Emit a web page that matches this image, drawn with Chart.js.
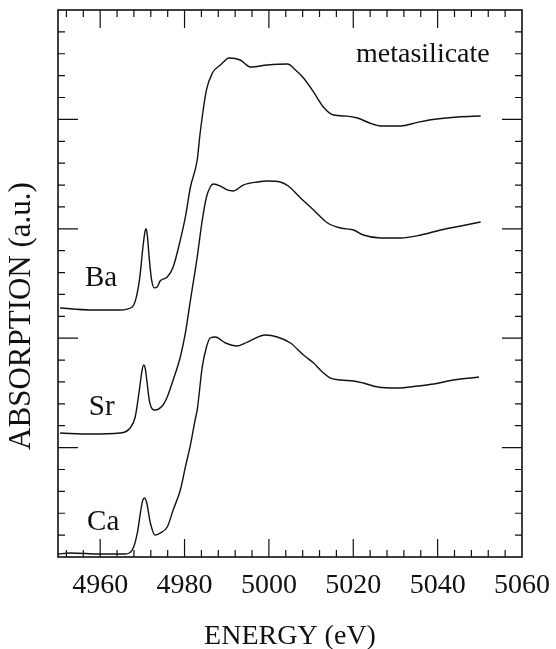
<!DOCTYPE html>
<html lang="en">
<head>
<meta charset="UTF-8">
<title>metasilicate XANES</title>
<script src="https://cdn.jsdelivr.net/npm/chart.js@4.4.1/dist/chart.umd.min.js"></script>
<style>
    html, body { margin: 0; padding: 0; background: #fff; }
    #wrap { width: 556px; height: 649px; position: relative; }
</style>
</head>
<body>
<div id="wrap"><canvas id="chart"></canvas></div>
<script>
// energies (eV) and absorption (a.u., offset curves)
const baEnergy = [4950.5, 4957.6, 4964.7, 4967.6, 4968.6, 4969.4, 4970.1, 4970.6, 4970.9, 4971.2, 4971.7, 4972.2, 4972.8, 4973.5, 4974.2, 4975.9, 4977.3, 4979.0, 4980.2, 4981.4, 4983.0, 4983.7, 4985.2, 4986.6, 4988.5, 4990.6, 4993.2, 4995.6, 4999.6, 5004.4, 5006.3, 5008.2, 5010.6, 5012.9, 5015.3, 5018.5, 5021.0, 5024.0, 5026.5, 5031.2, 5035.0, 5038.0, 5044.8, 5050.2];
const baAbs    = [2.276, 2.258, 2.258, 2.285, 2.380, 2.560, 2.820, 2.970, 3.000, 2.930, 2.700, 2.530, 2.460, 2.468, 2.523, 2.559, 2.651, 2.898, 3.108, 3.382, 3.629, 3.876, 4.269, 4.424, 4.497, 4.561, 4.543, 4.479, 4.497, 4.506, 4.452, 4.378, 4.250, 4.113, 4.040, 4.030, 4.013, 3.965, 3.940, 3.940, 3.970, 3.995, 4.022, 4.031];

const srEnergy = [4950.5, 4957.6, 4964.7, 4967.1, 4968.3, 4969.3, 4969.9, 4970.3, 4970.7, 4971.1, 4971.7, 4973.0, 4974.7, 4975.9, 4977.3, 4979.0, 4980.2, 4981.4, 4983.0, 4984.2, 4985.2, 4986.1, 4986.8, 4988.5, 4990.1, 4991.6, 4993.9, 4997.3, 4999.6, 5002.7, 5004.6, 5007.5, 5010.6, 5013.9, 5017.0, 5020.1, 5022.4, 5026.5, 5031.2, 5036.0, 5040.7, 5045.5, 5050.2];
const srAbs    = [1.133, 1.124, 1.133, 1.179, 1.280, 1.530, 1.700, 1.755, 1.720, 1.600, 1.420, 1.344, 1.380, 1.463, 1.618, 1.828, 2.048, 2.349, 2.742, 3.080, 3.291, 3.382, 3.409, 3.391, 3.355, 3.346, 3.400, 3.428, 3.437, 3.428, 3.391, 3.281, 3.172, 3.053, 3.007, 2.989, 2.943, 2.916, 2.916, 2.943, 2.989, 3.026, 3.062];

const caEnergy = [4950.0, 4952.9, 4960.0, 4965.9, 4967.6, 4968.8, 4969.6, 4970.1, 4970.5, 4971.0, 4971.9, 4973.0, 4974.2, 4975.9, 4977.3, 4979.0, 4980.2, 4981.4, 4982.5, 4983.0, 4984.2, 4985.2, 4986.1, 4987.3, 4989.7, 4992.5, 4994.9, 4999.2, 5002.0, 5005.1, 5008.2, 5010.6, 5012.2, 5014.6, 5017.0, 5020.1, 5022.4, 5025.8, 5030.5, 5035.3, 5039.1, 5043.8, 5049.8];
const caAbs    = [0.027, 0.037, 0.027, 0.027, 0.064, 0.219, 0.420, 0.520, 0.539, 0.500, 0.311, 0.201, 0.219, 0.274, 0.430, 0.612, 0.823, 1.024, 1.252, 1.344, 1.737, 1.920, 2.002, 2.011, 1.956, 1.929, 1.965, 2.029, 2.011, 1.956, 1.846, 1.773, 1.709, 1.636, 1.618, 1.609, 1.590, 1.554, 1.545, 1.563, 1.581, 1.618, 1.645];

// axis ticks
const xTicks = [];
for (let v = 4952; v <= 5060; v += 4) xTicks.push(v);
const yTicks = [];
for (let i = 1; i < 25; i++) yTicks.push(Math.round(i * 2) / 10);

// text labels placed in data coordinates
const curveLabels = [
    { text: 'Ba', x: 4956.4, y: 2.477 },
    { text: 'Sr', x: 4957.3, y: 1.298 },
    { text: 'Ca', x: 4956.9, y: 0.247 }
];
const sampleLabel = { text: 'metasilicate', x: 5036.5, y: 4.525 };

const serif = "'Liberation Serif', 'DejaVu Serif', serif";
const ink = '#111';

function toPoints(xs, ys) {
    return xs.map((v, i) => ({ x: v, y: ys[i] }));
}

function curve(label, xs, ys) {
    return {
        label: label,
        data: toPoints(xs, ys),
        borderColor: ink,
        borderWidth: 1.4,
        pointRadius: 0,
        fill: false,
        cubicInterpolationMode: 'monotone'
    };
}

// frame, inward ticks and texts
const frameTicks = {
    id: 'frameTicks',
    afterDatasetsDraw(chart) {
        const { ctx, chartArea: a, scales: { x, y } } = chart;
        ctx.save();
        ctx.strokeStyle = ink;
        ctx.lineWidth = 1.2;
        ctx.beginPath();
        x.ticks.forEach(t => {
            if (t.value >= 5060) return;
            const px = x.getPixelForValue(t.value);
            const len = t.value % 20 === 0 ? 18 : 7;
            ctx.moveTo(px, a.bottom); ctx.lineTo(px, a.bottom - len);
            ctx.moveTo(px, a.top); ctx.lineTo(px, a.top + len);
        });
        y.ticks.forEach(t => {
            const py = y.getPixelForValue(t.value);
            const major = Math.abs(t.value - Math.round(t.value)) < 1e-6;
            const len = major ? 20 : 7;
            ctx.moveTo(a.left, py); ctx.lineTo(a.left + len, py);
            ctx.moveTo(a.right, py); ctx.lineTo(a.right - len, py);
        });
        ctx.stroke();

        ctx.lineWidth = 1.6;
        ctx.strokeRect(a.left, a.top, a.right - a.left, a.bottom - a.top);

        ctx.fillStyle = ink;
        ctx.textBaseline = 'alphabetic';
        ctx.textAlign = 'left';
        ctx.font = '29px ' + serif;
        curveLabels.forEach(l => {
            ctx.fillText(l.text, x.getPixelForValue(l.x), y.getPixelForValue(l.y));
        });
        ctx.textAlign = 'center';
        ctx.font = '28px ' + serif;
        ctx.fillText(sampleLabel.text, x.getPixelForValue(sampleLabel.x), y.getPixelForValue(sampleLabel.y));

        // y axis title
        ctx.translate(22, 316);
        ctx.rotate(-Math.PI / 2);
        ctx.textBaseline = 'middle';
        ctx.font = '31px ' + serif;
        ctx.fillText('ABSORPTION (a.u.)', 0, 0);
        ctx.restore();
    }
};

new Chart(document.getElementById('chart'), {
    type: 'line',
    data: {
        datasets: [
            curve('Ba', baEnergy, baAbs),
            curve('Sr', srEnergy, srAbs),
            curve('Ca', caEnergy, caAbs)
        ]
    },
    options: {
        responsive: true,
        maintainAspectRatio: false,
        animation: false,
        layout: { padding: { left: 0, right: 34, top: 10, bottom: 0 } },
        plugins: { legend: { display: false }, tooltip: { enabled: false } },
        scales: {
            x: {
                type: 'linear',
                min: 4950,
                max: 5060,
                grid: { display: false, drawTicks: false },
                border: { display: false },
                afterBuildTicks: s => { s.ticks = xTicks.map(v => ({ value: v })); },
                afterFit: s => {
                    s.height = 92;
                    s.paddingLeft = 0;
                    s.paddingRight = 0;
                },
                ticks: {
                    autoSkip: false,
                    maxRotation: 0,
                    padding: 12,
                    color: ink,
                    font: { family: serif, size: 28 },
                    callback: v => (v % 20 === 0 ? String(v) : '')
                },
                title: {
                    display: true,
                    text: 'ENERGY (eV)',
                    color: ink,
                    padding: { top: 0, bottom: 0 },
                    font: { family: serif, size: 28, lineHeight: 0.86 }
                }
            },
            y: {
                min: 0,
                max: 5,
                grid: { display: false, drawTicks: false },
                border: { display: false },
                afterBuildTicks: s => { s.ticks = yTicks.map(v => ({ value: v })); },
                afterFit: s => { s.width = 58; },
                ticks: { display: false }
            }
        }
    },
    plugins: [frameTicks]
});
</script>
</body>
</html>
